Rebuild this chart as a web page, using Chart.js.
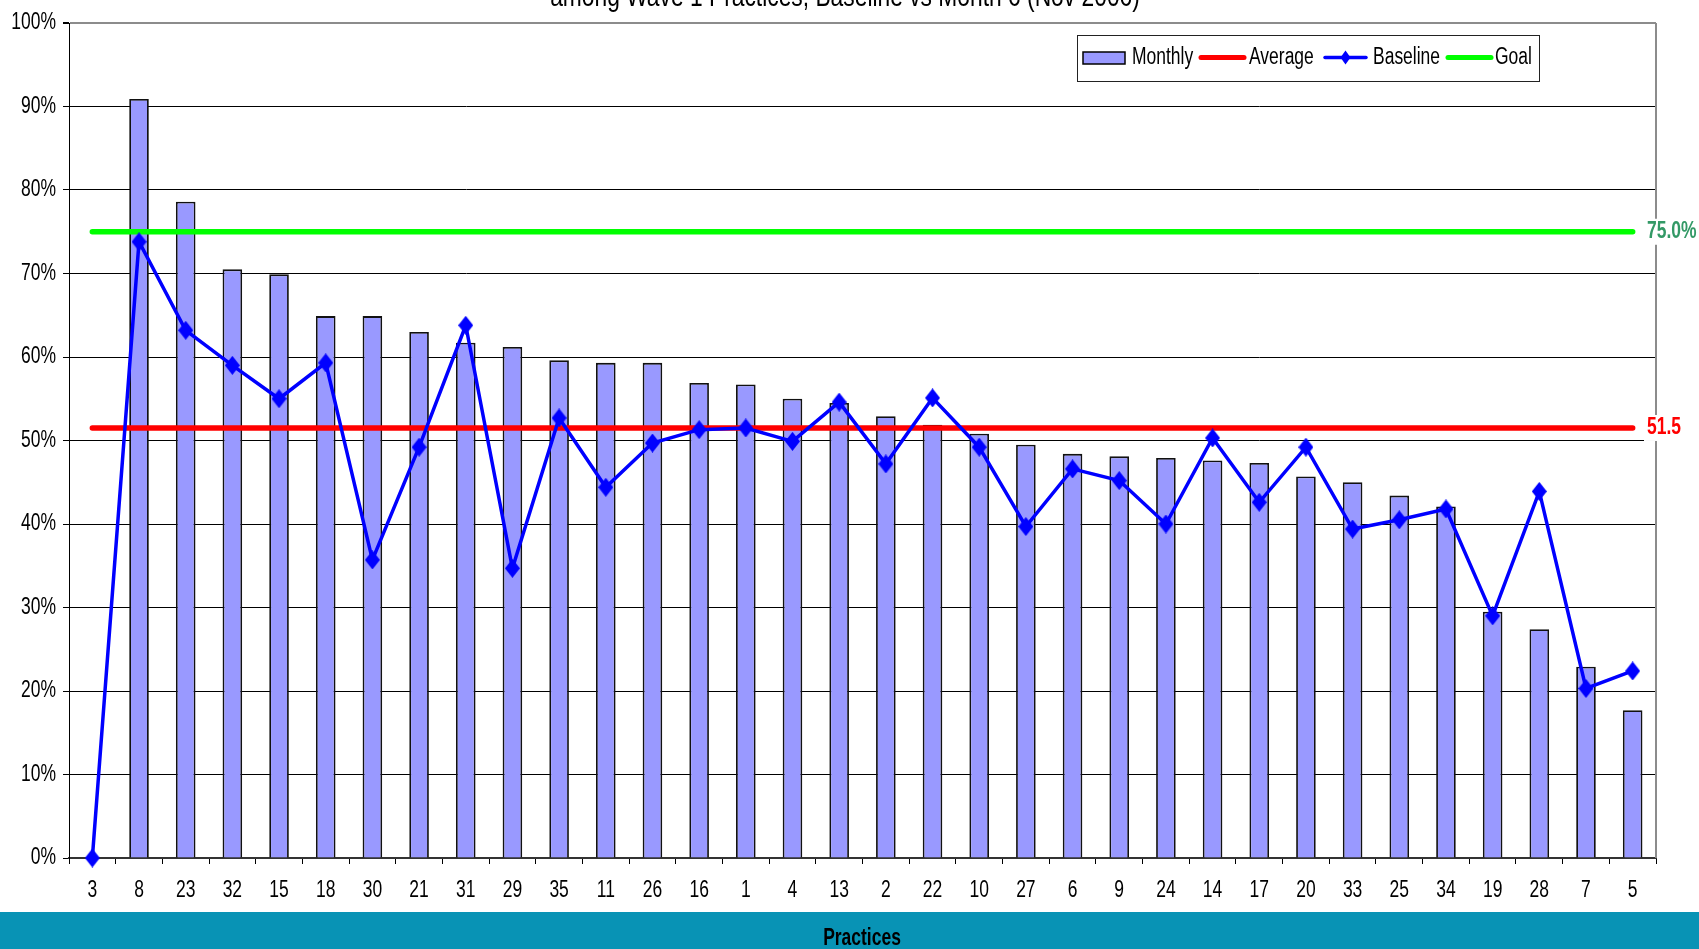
<!DOCTYPE html>
<html><head><meta charset="utf-8">
<script src="https://cdn.jsdelivr.net/npm/chart.js@4/dist/chart.umd.min.js"></script>
<style>html,body{margin:0;padding:0;background:#fff;overflow:hidden}#wrap{position:relative;width:1699px;height:949px}</style>
</head><body><div id="wrap"><canvas id="c" width="1699" height="949"></canvas></div>
<script>
const practices = ['3','8','23','32','15','18','30','21','31','29','35','11','26','16','1','4','13','2','22','10','27','6','9','24','14','17','20','33','25','34','19','28','7','5'];
const monthly = [null,90.9,78.6,70.5,69.9,64.9,64.9,63.0,61.7,61.2,59.6,59.3,59.3,56.9,56.7,55.0,54.5,52.9,51.9,50.8,49.5,48.4,48.1,47.9,47.6,47.3,45.7,45.0,43.4,42.1,29.5,27.4,22.9,17.7];
const baseline = [0,73.8,63.2,59.0,55.0,59.3,35.7,49.2,63.8,34.7,52.7,44.4,49.7,51.3,51.5,49.9,54.6,47.2,55.1,49.2,39.7,46.6,45.2,40.0,50.3,42.6,49.2,39.4,40.5,41.8,29.0,43.9,20.3,22.4];
const averageValue = 51.5;
const goalValue = 75;
const seriesNames = ['Monthly','Average','Baseline','Goal'];
const titleText = 'among Wave 1 Practices, Baseline vs Month 6 (Nov 2006)';
const xAxisTitle = 'Practices';

const FAM = '"Liberation Sans", Arial, sans-serif';
const SX = 0.76; // narrow-face emulation
const firstCat = practices[0], lastCat = practices[practices.length-1];

function narrowText(ctx, text, x, y, opts) {
  const o = Object.assign({size: 23, weight: 'normal', color: '#000', align: 'left', baseline: 'middle'}, opts || {});
  ctx.save();
  ctx.font = o.weight + ' ' + o.size + 'px ' + FAM;
  ctx.fillStyle = o.color; ctx.textBaseline = o.baseline; ctx.textAlign = 'left';
  const w = ctx.measureText(text).width * SX;
  let left = x;
  if (o.align === 'center') left = x - w / 2; else if (o.align === 'right') left = x - w;
  ctx.translate(left, y); ctx.scale(SX, 1);
  ctx.fillText(text, 0, 0);
  ctx.restore();
  return w;
}

// tall diamond marker
const marker = document.createElement('canvas');
marker.width = 15; marker.height = 19;
(function () {
  const m = marker.getContext('2d');
  m.fillStyle = '#0000ff';
  m.beginPath(); m.moveTo(7.5, 0); m.lineTo(15, 9.5); m.lineTo(7.5, 19); m.lineTo(0, 9.5); m.closePath(); m.fill();
})();

const deco = {
  id: 'deco',
  beforeDatasetsDraw(chart) {
    const {ctx, chartArea: a} = chart;
    ctx.save();
    ctx.strokeStyle = '#8c8c8c'; ctx.lineWidth = 2;
    ctx.beginPath(); ctx.moveTo(a.right, a.top); ctx.lineTo(a.right, a.bottom); ctx.stroke();
    ctx.restore();
  },
  afterDraw(chart) {
    const {ctx, scales: {x, y}} = chart;
    y.ticks.forEach((t, i) => narrowText(ctx, t.label, 56, y.getPixelForTick(i), {align: 'right'}));
    x.ticks.forEach((t, i) => narrowText(ctx, String(t.label), x.getPixelForTick(i), 891, {align: 'center'}));
    narrowText(ctx, titleText, 845, 6, {size: 30, align: 'center', baseline: 'alphabetic'});
    const gy = y.getPixelForValue(goalValue), ay = y.getPixelForValue(averageValue);
    ctx.save();
    ctx.fillStyle = '#fff';
    ctx.fillRect(1644, gy - 13, 55, 26); ctx.fillRect(1644, ay - 13, 55, 26);
    ctx.restore();
    narrowText(ctx, goalValue.toFixed(1) + '%', 1647, gy, {weight: 'bold', color: '#339966'});
    narrowText(ctx, String(averageValue), 1647, ay, {weight: 'bold', color: '#ff0000'});
    // legend
    ctx.save();
    ctx.fillStyle = '#fff'; ctx.fillRect(1077.5, 35.5, 462, 46);
    ctx.strokeStyle = '#222'; ctx.lineWidth = 1; ctx.strokeRect(1077.5, 35.5, 462, 46);
    const ly = 57.5;
    ctx.fillStyle = '#9999ff'; ctx.fillRect(1083, 52, 42, 12);
    ctx.strokeStyle = '#000'; ctx.lineWidth = 1.5; ctx.strokeRect(1083, 52, 42, 12);
    ctx.lineCap = 'round';
    ctx.strokeStyle = '#ff0000'; ctx.lineWidth = 5; ctx.beginPath(); ctx.moveTo(1201, ly); ctx.lineTo(1244, ly); ctx.stroke();
    ctx.strokeStyle = '#0000ff'; ctx.lineWidth = 3.5; ctx.beginPath(); ctx.moveTo(1325, ly); ctx.lineTo(1366, ly); ctx.stroke();
    ctx.fillStyle = '#0000ff'; ctx.beginPath(); ctx.moveTo(1345.5, ly - 7); ctx.lineTo(1350.5, ly); ctx.lineTo(1345.5, ly + 7); ctx.lineTo(1340.5, ly); ctx.closePath(); ctx.fill();
    ctx.strokeStyle = '#00ff00'; ctx.lineWidth = 5; ctx.beginPath(); ctx.moveTo(1448, ly); ctx.lineTo(1491, ly); ctx.stroke();
    ctx.restore();
    narrowText(ctx, seriesNames[0], 1132, 64, {baseline: 'alphabetic'});
    narrowText(ctx, seriesNames[1], 1249, 64, {baseline: 'alphabetic'});
    narrowText(ctx, seriesNames[2], 1373, 64, {baseline: 'alphabetic'});
    narrowText(ctx, seriesNames[3], 1495, 64, {baseline: 'alphabetic'});
    ctx.save();
    ctx.fillStyle = '#0893b5'; ctx.fillRect(0, 912, 1699, 37);
    ctx.restore();
    narrowText(ctx, xAxisTitle, 862, 939, {weight: 'bold', size: 23, align: 'center'});
  }
};

new Chart(document.getElementById('c'), {
  type: 'bar',
  data: {
    labels: practices,
    datasets: [
      { type: 'line', label: seriesNames[2], data: baseline, order: 1, borderColor: '#0000ff', backgroundColor: '#0000ff', borderWidth: 3.5, tension: 0,
        pointStyle: marker, pointRadius: 8, clip: false },
      { type: 'line', label: seriesNames[1], data: [{x: firstCat, y: averageValue}, {x: lastCat, y: averageValue}], order: 2, borderColor: '#ff0000', borderWidth: 5.5, borderCapStyle: 'round', pointRadius: 0 },
      { type: 'line', label: seriesNames[3], data: [{x: firstCat, y: goalValue}, {x: lastCat, y: goalValue}], order: 3, borderColor: '#00ff00', borderWidth: 5.5, borderCapStyle: 'round', pointRadius: 0 },
      { type: 'bar', label: seriesNames[0], data: monthly, order: 4, backgroundColor: '#9999ff', borderColor: '#111', borderWidth: 1.8, barPercentage: 0.42, categoryPercentage: 1 }
    ]
  },
  options: {
    responsive: false, animation: false,
    layout: { padding: { top: 23, right: 43, left: 0, bottom: 0 } },
    plugins: { legend: { display: false }, tooltip: { enabled: false } },
    scales: {
      x: {
        offset: true,
        grid: { offset: true, drawOnChartArea: false, drawTicks: true, tickLength: 6, tickColor: '#000', color: '#000' },
        border: { color: '#333', width: 2 },
        ticks: { font: { family: FAM, size: 22 }, color: 'rgba(0,0,0,0)', padding: 12, maxRotation: 0, autoSkip: false },
        afterFit(s) { s.height = 91; }
      },
      y: {
        min: 0, max: 100,
        grid: { color: c => c.tick && c.tick.value === 100 ? '#8c8c8c' : '#000', lineWidth: c => c.tick && c.tick.value === 100 ? 2 : 1, tickLength: 6, tickColor: '#000' },
        border: { color: '#000', width: 1 },
        ticks: { stepSize: 10, callback: v => v + '%', font: { family: FAM, size: 21 }, color: 'rgba(0,0,0,0)', padding: 8 },
        afterFit(s) { s.width = 69; }
      }
    }
  },
  plugins: [deco]
});
</script></body></html>
